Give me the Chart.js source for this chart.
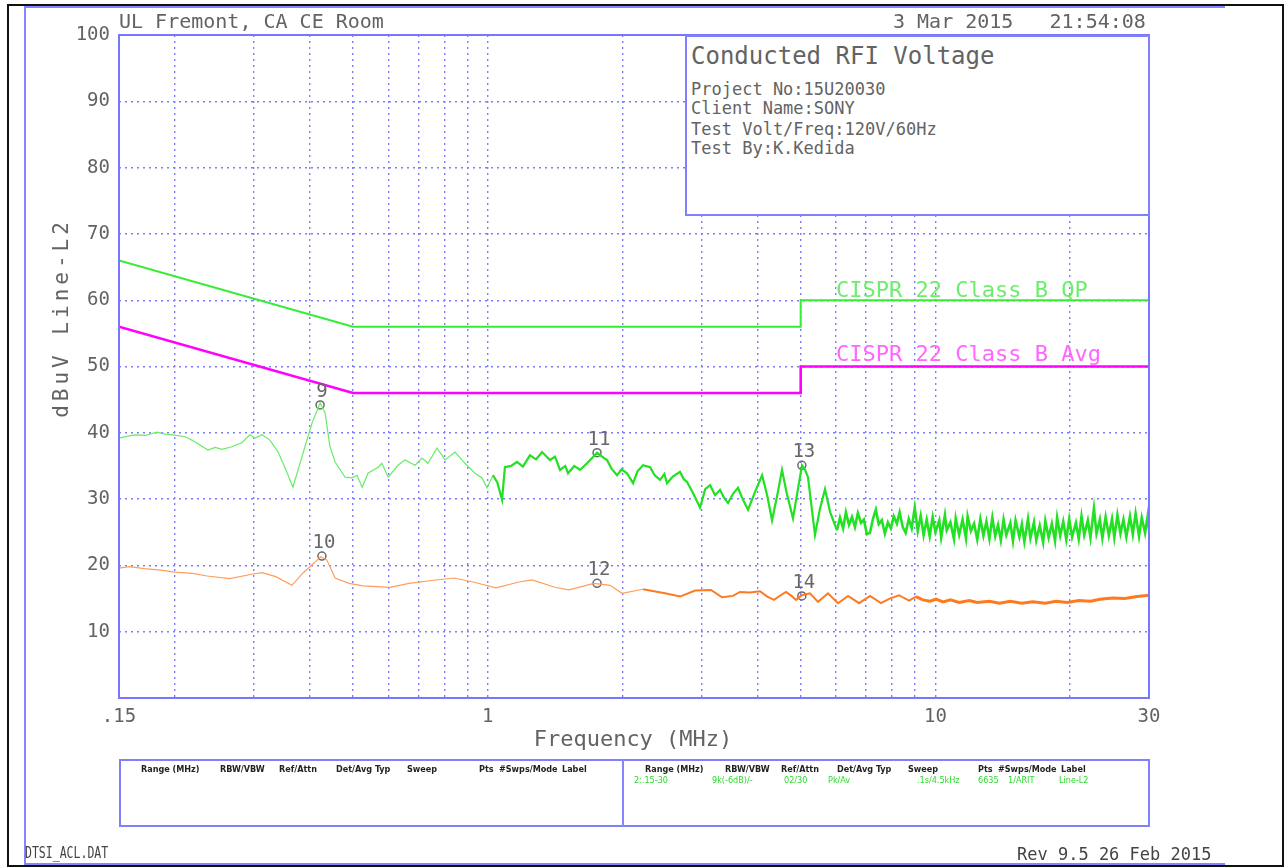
<!DOCTYPE html>
<html>
<head>
<meta charset="utf-8">
<script src="https://cdn.jsdelivr.net/npm/chart.js@4.4.1/dist/chart.umd.min.js"></script>
<style>
  html, body { margin: 0; padding: 0; background: #fff; }
  #page { position: relative; width: 1285px; height: 867px; overflow: hidden; background: #fff; }
  #chart { position: absolute; left: 0; top: 0; }
  .abs { position: absolute; }
  .txt { position: absolute; white-space: pre; line-height: 1; font-family: "DejaVu Sans Mono", monospace; color: #636363; }
  .tbl { position: absolute; white-space: pre; line-height: 1; font-family: "DejaVu Sans Condensed", "DejaVu Sans", sans-serif; font-size: 9px; font-weight: bold; color: #222; }
  .tbl.val { color: #2fd82f; font-weight: normal; }
  .blue { position: absolute; background: #8585ff; }
</style>
</head>
<body>
<div id="page">
  <canvas id="chart" width="1285" height="867"></canvas>

  <!-- page frame -->
  <div class="abs" style="left:7px;top:4px;width:1277px;height:863px;border:2px solid #111;box-sizing:border-box;"></div>
  <div class="blue" style="left:24px;top:6px;width:2px;height:859px;"></div>
  <div class="blue" style="left:24px;top:6px;width:1201px;height:2px;"></div>
  <div class="blue" style="left:24px;top:863px;width:1201px;height:2px;"></div>

  <!-- header -->
  <div class="txt" style="left:119px;top:11px;font-size:20px;">UL Fremont, CA CE Room</div>
  <div class="txt" style="left:893px;top:11px;font-size:20px;">3 Mar 2015   21:54:08</div>

  <!-- info box -->
  <div class="abs" style="left:685px;top:35px;width:465px;height:181px;border:2px solid #8080ff;box-sizing:border-box;background:#fff;"></div>
  <div class="txt" style="left:691px;top:44px;font-size:24px;">Conducted RFI Voltage</div>
  <div class="txt" style="left:691px;top:81px;font-size:17px;">Project No:15U20030</div>
  <div class="txt" style="left:691px;top:100px;font-size:17px;">Client Name:SONY</div>
  <div class="txt" style="left:691px;top:121px;font-size:17px;">Test Volt/Freq:120V/60Hz</div>
  <div class="txt" style="left:691px;top:140px;font-size:17px;">Test By:K.Kedida</div>

  <!-- settings table -->
  <div class="abs" style="left:119px;top:759px;width:1031px;height:68px;border:2px solid #8080ff;box-sizing:border-box;"></div>
  <div class="blue" style="left:622px;top:759px;width:2px;height:68px;"></div>
  <div id="tableText"></div>

  <!-- footer -->
  <div class="txt" style="left:25px;top:845px;font-size:16px;color:#444;transform:scaleX(0.72);transform-origin:left top;">DTSI_ACL.DAT</div>
  <div class="txt" style="left:1017px;top:846px;font-size:17px;color:#444;">Rev 9.5 26 Feb 2015</div>
</div>

<script>
// ---- axis ticks ----
const freqGridTicks = [0.15, 0.2, 0.3, 0.4, 0.5, 0.6, 0.7, 0.8, 0.9, 1, 2, 3, 4, 5, 6, 7, 8, 9, 10, 20, 30];
const freqLabelValues = [0.15, 1, 10, 30];
const freqLabelText = ['.15', '1', '10', '30'];
const levelTicks = [10, 20, 30, 40, 50, 60, 70, 80, 90, 100];

// ---- CISPR 22 class B limits ----
const limitFreq = [0.15, 0.5, 5, 5, 30];
const qpLimit = [66, 56, 56, 60, 60];
const avgLimit = [56, 46, 46, 50, 50];
const limitNames = ['CISPR 22 Class B QP', 'CISPR 22 Class B Avg'];

// ---- peak trace (green), MHz / dBuV ----
const peakFreq = [
  0.150, 0.157, 0.163, 0.172, 0.182, 0.190, 0.198, 0.211, 0.222, 0.237,
  0.246, 0.255, 0.268, 0.282, 0.294, 0.302, 0.313, 0.326, 0.340, 0.352,
  0.367, 0.384, 0.405, 0.422, 0.433, 0.444, 0.456, 0.480, 0.497, 0.510,
  0.524, 0.540, 0.569, 0.580, 0.599, 0.630, 0.653, 0.688, 0.713, 0.735,
  0.770, 0.803, 0.845, 0.889, 0.936, 0.971, 0.996, 1.027, 1.050, 1.076,
  1.092, 1.127, 1.162, 1.198, 1.242, 1.282, 1.322, 1.377, 1.413, 1.450,
  1.490, 1.511, 1.560, 1.607, 1.666, 1.710, 1.754, 1.800, 1.846, 1.890,
  1.944, 1.990, 2.046, 2.111, 2.160, 2.222, 2.304, 2.360, 2.426, 2.480,
  2.514, 2.590, 2.688, 2.740, 2.787, 2.870, 2.979, 3.060, 3.137, 3.220,
  3.302, 3.370, 3.441, 3.530, 3.622, 3.710, 3.814, 3.950, 4.100, 4.210,
  4.315, 4.430, 4.542, 4.650, 4.806, 4.930, 5.034, 5.110, 5.191, 5.382,
  5.520, 5.666, 5.820, 6.027,
  6.12, 6.22, 6.31, 6.41, 6.51, 6.61, 6.71, 6.82, 6.92, 7.03,
  7.14, 7.25, 7.36, 7.47, 7.59, 7.71, 7.83, 7.95, 8.07, 8.20,
  8.32, 8.45, 8.58, 8.72, 8.85, 8.99, 9.13, 9.27, 9.41, 9.56,
  9.71, 9.86, 10.0, 10.2, 10.3, 10.5, 10.6, 10.8, 11.0, 11.1,
  11.3, 11.5, 11.7, 11.8, 12.0, 12.2, 12.4, 12.6, 12.8, 13.0,
  13.2, 13.4, 13.6, 13.8, 14.0, 14.2, 14.4, 14.7, 14.9, 15.1,
  15.4, 15.6, 15.8, 16.1, 16.3, 16.6, 16.8, 17.1, 17.4, 17.6,
  17.9, 18.2, 18.5, 18.7, 19.0, 19.3, 19.6, 19.9, 20.2, 20.6,
  20.9, 21.2, 21.5, 21.9, 22.2, 22.6, 22.9, 23.3, 23.6, 24.0,
  24.4, 24.8, 25.1, 25.5, 25.9, 26.3, 26.7, 27.2, 27.6, 28.0,
  28.5, 28.9, 29.4, 29.8, 30.0
];
const peakLevel = [
  39.2, 39.5, 39.7, 39.6, 40.1, 39.8, 39.7, 39.4, 38.6, 37.4,
  37.8, 37.5, 37.9, 38.5, 39.7, 39.2, 39.7, 38.9, 37.1, 34.8,
  31.8, 36.3, 41.5, 44.5, 43.0, 37.9, 35.6, 33.3, 33.2, 33.6,
  31.8, 33.9, 34.8, 35.4, 33.3, 35.1, 35.9, 35.1, 36.2, 35.4,
  37.7, 35.9, 37.1, 35.4, 33.9, 33.2, 31.7, 33.6, 32.5, 29.9,
  34.8, 35.0, 35.6, 34.9, 36.6, 36.0, 37.1, 35.9, 36.4, 34.4,
  35.0, 33.9, 35.0, 34.4, 35.4, 36.2, 37.0, 36.4, 35.9, 34.6,
  33.6, 34.5, 33.9, 32.4, 34.2, 35.1, 34.8, 33.6, 32.9, 33.8,
  32.4, 33.4, 34.1, 33.0, 32.6, 31.0, 28.7, 31.5, 32.1, 30.6,
  31.4, 30.2, 29.4, 30.8, 31.7, 30.0, 28.4, 31.0, 33.6, 30.5,
  26.8, 30.5, 34.4, 31.0, 27.1, 31.5, 35.1, 34.5, 33.3, 24.6,
  28.5, 31.5, 28.0, 25.3,
  27.2, 25.6, 28.0, 26.1, 27.3, 25.8, 27.9, 26.4, 26.9, 24.7,
  24.9, 27.0, 28.4, 26.2, 26.8, 24.8, 26.5, 25.6, 27.4, 26.3,
  28.0, 25.8, 24.9, 27.0, 25.6, 28.7, 25.2, 27.5, 24.6, 26.9,
  24.4, 27.3, 25.0, 26.8, 24.2, 27.6, 25.3, 26.5, 24.0, 27.1,
  24.6, 26.9, 24.1, 27.4, 25.2, 26.3, 23.9, 27.0, 24.5, 26.6,
  24.0, 27.2, 24.4, 26.1, 23.8, 26.9, 24.6, 26.4, 23.7, 26.8,
  24.3, 26.2, 23.6, 27.0, 24.1, 26.5, 23.8, 26.0, 23.5, 26.7,
  24.2, 26.3, 23.7, 27.2, 24.5, 26.6, 23.9, 27.0, 24.3, 26.4,
  24.0, 27.4, 24.6, 26.8, 24.2, 28.6, 24.8, 26.9, 24.1, 27.3,
  24.5, 27.0, 24.2, 27.6, 24.8, 26.9, 24.3, 27.4, 24.7, 27.8,
  24.4, 27.2, 24.9, 27.5, 25.4
];

// ---- average trace (orange), MHz / dBuV ----
const avgFreq = [
  0.150, 0.158, 0.171, 0.186, 0.200, 0.219, 0.236, 0.265, 0.299, 0.313,
  0.336, 0.365, 0.387, 0.411, 0.424, 0.437, 0.456, 0.490, 0.526, 0.605,
  0.667, 0.766, 0.840, 0.927, 1.043, 1.174, 1.255, 1.413, 1.518, 1.726,
  1.875, 1.995, 2.222, 2.488, 2.688, 2.904, 3.152, 3.336, 3.530, 3.659,
  3.850, 4.056, 4.210, 4.359, 4.510, 4.636, 4.770, 4.882, 5.030, 5.246,
  5.466, 5.754, 6.059, 6.380, 6.752, 7.143, 7.558, 7.900, 8.291, 8.730,
  9.050, 9.370, 9.724, 10.03, 10.40, 10.80, 11.30, 11.90, 12.40, 13.20,
  13.90, 14.70, 15.60, 16.50, 17.60, 18.60, 19.70, 20.90, 22.20, 23.30,
  24.90, 26.50, 28.20, 30.00
];
const avgLevel = [
  19.6, 19.8, 19.5, 19.3, 19.0, 18.8, 18.4, 18.0, 18.7, 18.9,
  18.3, 17.0, 18.9, 20.5, 21.3, 20.8, 18.1, 17.3, 16.9, 16.7,
  17.3, 17.8, 18.1, 17.5, 16.6, 17.5, 17.8, 16.7, 16.3, 17.3,
  17.0, 15.8, 16.4, 15.8, 15.3, 16.2, 16.3, 15.2, 15.4, 16.0,
  15.9, 16.1, 15.3, 14.8, 15.5, 16.0, 15.4, 14.8, 15.5, 15.8,
  14.5, 15.8, 14.3, 15.4, 14.3, 15.4, 14.3, 15.0, 15.5, 14.7,
  15.3, 14.8, 14.6, 14.9, 14.5, 14.8, 14.4, 14.7, 14.4, 14.6,
  14.3, 14.6, 14.3, 14.5, 14.3, 14.6, 14.4, 14.7, 14.6, 14.9,
  15.1, 15.0, 15.3, 15.5
];

// ---- markers ----
const markerNo = ['9', '10', '11', '12', '13', '14'];
const markerFreq = [0.422, 0.426, 1.754, 1.754, 5.03, 5.03];
const markerLevel = [44.2, 21.4, 37.0, 17.3, 35.1, 15.4];

// ---- settings table text ----
const tableHeads = ['Range (MHz)', 'RBW/VBW', 'Ref/Attn', 'Det/Avg Typ', 'Sweep', 'Pts', '#Swps/Mode', 'Label'];
const tableValues = ['2:.15-30', '9k(-6dB)/-', '02/30', 'Pk/Av', '.1s/4.5kHz', '6635', '1/ARIT', 'Line-L2'];

const headLeftX = [141, 220, 279, 336, 407, 479, 499, 562];
const headRightX = [645, 725, 781, 837, 908, 978, 998, 1061];
const valueX = [634, 712, 784, 828, 917, 978, 1008, 1059];

const tableEl = document.getElementById('tableText');
function addText(text, x, top, cls) {
    const d = document.createElement('div');
    d.className = cls;
    d.style.left = x + 'px';
    d.style.top = top + 'px';
    d.textContent = text;
    tableEl.appendChild(d);
}
tableHeads.forEach((t, i) => {
    addText(t, headLeftX[i], 765, 'tbl');
    addText(t, headRightX[i], 765, 'tbl');
});
tableValues.forEach((t, i) => addText(t, valueX[i], 776, 'tbl val'));

const pts = (xs, ys) => xs.map((f, i) => ({ x: f, y: ys[i] }));

const MONO = '"DejaVu Sans Mono", monospace';

const decor = {
    id: 'decor',
    afterDatasetsDraw(chart) {
        const { ctx, chartArea: a, scales: { x, y } } = chart;
        ctx.save();

        // plot frame
        ctx.strokeStyle = '#7676ff';
        ctx.lineWidth = 2;
        ctx.strokeRect(a.left, a.top, a.right - a.left, a.bottom - a.top);

        // limit names
        ctx.font = '22px ' + MONO;
        ctx.textAlign = 'left';
        ctx.textBaseline = 'alphabetic';
        ctx.fillStyle = '#6cee6c';
        ctx.fillText(limitNames[0], 836, y.getPixelForValue(qpLimit[4]) - 3);
        ctx.fillStyle = '#ff66ff';
        ctx.fillText(limitNames[1], 836, y.getPixelForValue(avgLimit[4]) - 6);

        // marker numbers
        ctx.font = '19px ' + MONO;
        ctx.fillStyle = '#666';
        ctx.textAlign = 'center';
        markerNo.forEach((n, i) => {
            const px = x.getPixelForValue(markerFreq[i]);
            const py = y.getPixelForValue(markerLevel[i]);
            ctx.fillText(n, px + 2, py - 8);
        });

        // axis titles
        ctx.fillStyle = '#636363';
        ctx.font = '22px ' + MONO;
        ctx.fillText('Frequency (MHz)', 633, 746);

        ctx.translate(68, 318);
        ctx.rotate(-Math.PI / 2);
        ctx.font = '21px ' + MONO;
        ctx.letterSpacing = '4px';
        ctx.fillText('dBuV Line-L2', 0, 0);

        ctx.restore();
    }
};

const gridStyle = { color: '#7c7cff', lineWidth: 1.4, drawTicks: false };

new Chart(document.getElementById('chart'), {
    type: 'line',
    data: {
        datasets: [
            {
                label: limitNames[0],
                data: pts(limitFreq, qpLimit),
                borderColor: '#33ee33',
                borderWidth: 2,
                pointRadius: 0
            },
            {
                label: limitNames[1],
                data: pts(limitFreq, avgLimit),
                borderColor: '#ff00ff',
                borderWidth: 2.6,
                pointRadius: 0
            },
            {
                label: 'Peak',
                data: pts(peakFreq, peakLevel),
                borderColor: '#22e022',
                borderWidth: 1.5,
                pointRadius: 0,
                segment: {
                    borderColor: c => c.p0.parsed.x < 1 ? '#66ec66' : '#22e022',
                    borderWidth: c => c.p0.parsed.x < 1 ? 1.2 : (c.p0.parsed.x < 6 ? 2.2 : 2.6)
                }
            },
            {
                label: 'Average',
                data: pts(avgFreq, avgLevel),
                borderColor: '#ff7a1f',
                borderWidth: 1.5,
                pointRadius: 0,
                segment: {
                    borderColor: c => c.p0.parsed.x < 2 ? '#ff9d5c' : '#ff7a1f',
                    borderWidth: c => c.p0.parsed.x < 2 ? 1.2 : (c.p0.parsed.x < 9 ? 2 : 3)
                }
            },
            {
                label: 'Markers',
                data: pts(markerFreq, markerLevel),
                showLine: false,
                pointRadius: 4,
                pointBorderWidth: 1.5,
                pointBorderColor: '#6a6a6a',
                pointBackgroundColor: 'rgba(0,0,0,0)'
            }
        ]
    },
    options: {
        responsive: false,
        animation: false,
        layout: { padding: { left: 0, right: 136, top: 35, bottom: 139 } },
        plugins: { legend: { display: false }, tooltip: { enabled: false } },
        elements: { line: { tension: 0, fill: false } },
        scales: {
            x: {
                type: 'logarithmic',
                min: 0.15,
                max: 30,
                grid: gridStyle,
                border: { display: false, dash: [2, 4] },
                afterBuildTicks: scale => {
                    scale.ticks = freqGridTicks.map(v => ({ value: v }));
                },
                afterFit: scale => { scale.height = 30; },
                ticks: {
                    autoSkip: false,
                    maxRotation: 0,
                    padding: 8,
                    color: '#636363',
                    font: { family: 'DejaVu Sans Mono', size: 19 },
                    callback: v => {
                        const i = freqLabelValues.indexOf(v);
                        return i >= 0 ? freqLabelText[i] : '';
                    }
                }
            },
            y: {
                min: 0,
                max: 100,
                grid: gridStyle,
                border: { display: false, dash: [2, 4] },
                afterBuildTicks: scale => {
                    scale.ticks = levelTicks.map(v => ({ value: v }));
                },
                afterFit: scale => { scale.width = 119; },
                ticks: {
                    padding: 9,
                    color: '#636363',
                    font: { family: 'DejaVu Sans Mono', size: 19 }
                }
            }
        }
    },
    plugins: [decor]
});
</script>
</body>
</html>
